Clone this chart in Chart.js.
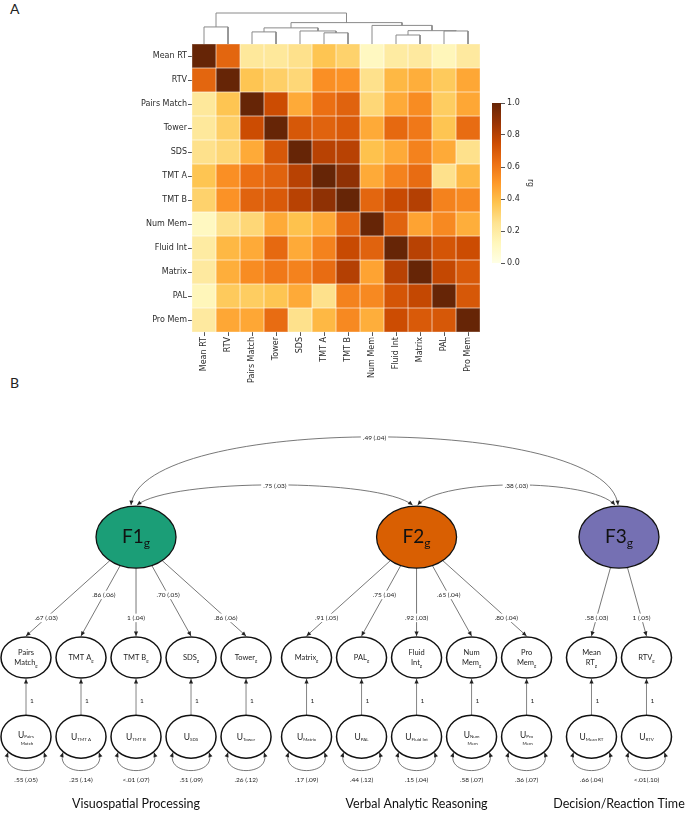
<!DOCTYPE html>
<html>
<head>
<meta charset="utf-8">
<script src="https://cdn.jsdelivr.net/npm/chart.js@4.4.1/dist/chart.umd.min.js"></script>
<style>
  body { margin: 0; background: #fff; }
  #wrap { position: relative; width: 685px; height: 818px; overflow: hidden; }
  canvas { position: absolute; }
  .tag { position: absolute; font: 14px Lato, sans-serif; color: #222; }
</style>
</head>
<body>
<div id="wrap">
  <div class="tag" style="left:10px;top:0px">A</div>
  <div class="tag" style="left:10px;top:374px">B</div>
  <canvas id="heat" width="685" height="420" style="left:0;top:0"></canvas>
  <canvas id="dendro" width="685" height="46" style="left:0;top:0"></canvas>
  <canvas id="cbar" width="55" height="190" style="left:480px;top:90px"></canvas>
  <canvas id="path" width="685" height="448" style="left:0;top:370px"></canvas>
</div>
<script>
// ---------- Panel A data ----------
const tasks = ['Mean RT', 'RTV', 'Pairs Match', 'Tower', 'SDS', 'TMT A', 'TMT B', 'Num Mem', 'Fluid Int', 'Matrix', 'PAL', 'Pro Mem'];

// genetic correlations (rg), rows/cols in the order of tasks
const rg = [
  [1.00, 0.66, 0.22, 0.22, 0.26, 0.37, 0.32, 0.11, 0.20, 0.21, 0.13, 0.21],
  [0.66, 1.00, 0.37, 0.33, 0.30, 0.53, 0.52, 0.26, 0.41, 0.44, 0.35, 0.46],
  [0.22, 0.37, 1.00, 0.75, 0.45, 0.63, 0.67, 0.30, 0.45, 0.54, 0.34, 0.46],
  [0.22, 0.33, 0.75, 1.00, 0.71, 0.67, 0.70, 0.45, 0.65, 0.60, 0.37, 0.64],
  [0.26, 0.30, 0.45, 0.71, 1.00, 0.80, 0.80, 0.38, 0.45, 0.57, 0.45, 0.26],
  [0.37, 0.53, 0.63, 0.67, 0.80, 1.00, 0.90, 0.45, 0.57, 0.64, 0.26, 0.41],
  [0.32, 0.52, 0.67, 0.70, 0.80, 0.90, 1.00, 0.66, 0.76, 0.81, 0.57, 0.55],
  [0.11, 0.26, 0.30, 0.45, 0.38, 0.45, 0.66, 1.00, 0.67, 0.47, 0.55, 0.44],
  [0.20, 0.41, 0.45, 0.65, 0.45, 0.57, 0.76, 0.67, 1.00, 0.80, 0.72, 0.75],
  [0.21, 0.44, 0.54, 0.60, 0.57, 0.64, 0.81, 0.47, 0.80, 1.00, 0.77, 0.70],
  [0.13, 0.35, 0.34, 0.37, 0.45, 0.26, 0.57, 0.55, 0.72, 0.77, 1.00, 0.71],
  [0.21, 0.46, 0.46, 0.64, 0.26, 0.41, 0.55, 0.44, 0.75, 0.70, 0.71, 1.00]
];

// hierarchical clustering merges: [left, right, height]; ids >= 12 are earlier merges
const linkage = [
  [8, 9, 0.29], [5, 6, 0.36], [2, 3, 0.39], [4, 13, 0.42], [10, 11, 0.42], [12, 16, 0.43],
  [14, 15, 0.52], [0, 1, 0.55], [7, 17, 0.60], [18, 20, 0.69], [19, 21, 1.00]
];

const cbarTicks = [0, 0.2, 0.4, 0.6, 0.8, 1.0];
const ylOrBr = ['#ffffe5', '#fff7bc', '#fee391', '#fec44f', '#fe9929', '#ec7014', '#cc4c02', '#993404', '#662506'];

// ---------- Panel B data ----------
const groups = ['Visuospatial Processing', 'Verbal Analytic Reasoning', 'Decision/Reaction Time'];
const factors = ['F1', 'F2', 'F3'];
const factorColors = ['#1b9e77', '#d95f02', '#7570b3'];
const indicators = ['Pairs Match', 'TMT A', 'TMT B', 'SDS', 'Tower', 'Matrix', 'PAL', 'Fluid Int', 'Num Mem', 'Pro Mem', 'Mean RT', 'RTV'];
const indicatorText = ['Pairs\nMatch', 'TMT A', 'TMT B', 'SDS', 'Tower', 'Matrix', 'PAL', 'Fluid\nInt', 'Num\nMem', 'Pro\nMem', 'Mean\nRT', 'RTV'];
const residualText = ['Pairs\nMatch', 'TMT A', 'TMT B', 'SDS', 'Tower', 'Matrix', 'PAL', 'Fluid Int', 'Num\nMem', 'Pro\nMem', 'Mean RT', 'RTV'];
const indicatorFactor = [0, 0, 0, 0, 0, 1, 1, 1, 1, 1, 2, 2];
const loadings = ['.67 (.03)', '.86 (.06)', '1 (.04)', '.70 (.05)', '.86 (.06)', '.91 (.05)', '.75 (.04)', '.92 (.03)', '.65 (.04)', '.80 (.04)', '.58 (.03)', '1 (.05)'];
const residuals = ['.55 (.05)', '.25 (.14)', '<.01 (.07)', '.51 (.09)', '.26 (.12)', '.17 (.09)', '.44 (.12)', '.15 (.04)', '.58 (.07)', '.36 (.07)', '.66 (.04)', '<.01(.10)'];
const factorCorr = [[0, 1, '.75 (.03)'], [1, 2, '.38 (.03)'], [0, 2, '.49 (.04)']];

// ---------- helpers ----------
function hexRgb(h) {
  return [1, 3, 5].map(i => parseInt(h.slice(i, i + 2), 16));
}
function cmap(v) {
  const n = ylOrBr.length - 1;
  const t = Math.min(Math.max(v, 0), 1) * n;
  const i = Math.min(Math.floor(t), n - 1);
  const f = t - i;
  const a = hexRgb(ylOrBr[i]), b = hexRgb(ylOrBr[i + 1]);
  return 'rgb(' + a.map((c, k) => Math.round(c + (b[k] - c) * f)).join(',') + ')';
}

const tickFont = { family: 'DejaVu Sans', size: 8 };
const tickColor = '#2b2b2b';

// ---------- heatmap ----------
const cells = [];
tasks.forEach((r, i) => tasks.forEach((c, j) => cells.push({ x: c, y: r, v: rg[i][j] })));

const heatCells = {
  id: 'heatCells',
  beforeDatasetsDraw(chart) {
    const { ctx, scales: { x, y } } = chart;
    const w = x.width / tasks.length, h = y.height / tasks.length;
    const meta = chart.getDatasetMeta(0);
    ctx.save();
    meta.data.forEach((pt, k) => {
      ctx.fillStyle = cmap(cells[k].v);
      ctx.fillRect(pt.x - w / 2, pt.y - h / 2, w, h);
    });
    ctx.strokeStyle = 'rgba(255,255,255,0.35)';
    ctx.lineWidth = 1;
    meta.data.forEach(pt => ctx.strokeRect(pt.x - w / 2, pt.y - h / 2, w, h));
    ctx.restore();
  }
};

new Chart(document.getElementById('heat'), {
  type: 'scatter',
  data: { datasets: [{ data: cells, pointRadius: 0, pointHoverRadius: 0 }] },
  options: {
    responsive: false, animation: false, events: [],
    layout: { padding: { top: 44, right: 205, left: 0, bottom: 0 } },
    plugins: { legend: { display: false }, tooltip: { enabled: false } },
    scales: {
      x: {
        type: 'category', labels: tasks, offset: true,
        grid: { drawOnChartArea: false, tickLength: 4, color: tickColor, lineWidth: 0.8 },
        border: { display: false },
        ticks: { minRotation: 90, maxRotation: 90, autoSkip: false, padding: 1, color: tickColor, font: tickFont },
        afterFit: s => { s.height = 88; }
      },
      y: {
        type: 'category', labels: tasks, offset: true,
        grid: { drawOnChartArea: false, tickLength: 4, color: tickColor, lineWidth: 0.8 },
        border: { display: false },
        ticks: { autoSkip: false, padding: 1, color: tickColor, font: tickFont },
        afterFit: s => { s.width = 192; }
      }
    }
  },
  plugins: [heatCells]
});

// ---------- dendrogram ----------
const nodes = tasks.map((t, i) => ({ x: i + 0.5, h: 0 }));
const links = [];
linkage.forEach(([a, b, h]) => {
  const A = nodes[a], B = nodes[b];
  links.push([{ x: A.x, y: A.h }, { x: A.x, y: h }, { x: B.x, y: h }, { x: B.x, y: B.h }]);
  nodes.push({ x: (A.x + B.x) / 2, h: h });
});

new Chart(document.getElementById('dendro'), {
  type: 'scatter',
  data: {
    datasets: links.map(l => ({
      data: l, showLine: true, borderColor: '#8a8a8a', borderWidth: 1,
      pointRadius: 0, tension: 0, clip: false
    }))
  },
  options: {
    responsive: false, animation: false, events: [],
    layout: { padding: { top: 13, right: 205, left: 192, bottom: 2 } },
    plugins: { legend: { display: false }, tooltip: { enabled: false } },
    scales: {
      x: { type: 'linear', min: 0, max: tasks.length, display: false },
      y: { type: 'linear', min: 0, max: 1, display: false }
    }
  }
});

// ---------- colorbar ----------
new Chart(document.getElementById('cbar'), {
  type: 'bar',
  data: {
    labels: [''],
    datasets: [{
      data: [1], barPercentage: 1, categoryPercentage: 1, borderWidth: 0,
      backgroundColor: c => {
        const area = c.chart.chartArea;
        if (!area) return ylOrBr[4];
        const g = c.chart.ctx.createLinearGradient(0, area.bottom, 0, area.top);
        ylOrBr.forEach((col, i) => g.addColorStop(i / (ylOrBr.length - 1), col));
        return g;
      }
    }]
  },
  options: {
    responsive: false, animation: false, events: [],
    layout: { padding: { top: 13, right: 0, left: 12, bottom: 17 } },
    plugins: { legend: { display: false }, tooltip: { enabled: false } },
    scales: {
      x: { display: false },
      y: {
        position: 'right', min: 0, max: 1,
        afterBuildTicks: s => { s.ticks = cbarTicks.map(v => ({ value: v })); },
        ticks: { callback: v => v.toFixed(1), padding: 2, color: tickColor, font: tickFont },
        grid: { drawOnChartArea: false, tickLength: 4, color: tickColor, lineWidth: 0.8 },
        border: { display: false },
        title: { display: true, text: 'rg', color: tickColor, font: tickFont, padding: 0 },
        afterFit: s => { s.width = 34; }
      }
    }
  }
});

// ---------- Panel B path diagram ----------
// layout: horizontal slots per indicator, vertical tiers (0 = residual row, 1 = indicator row)
const groupGap = [0, 0.1, 0.28];
const slot = indicators.map((_, i) => i + groupGap[indicatorFactor[i]]);
const factorSlot = factors.map((_, f) => {
  const s = slot.filter((_, i) => indicatorFactor[i] === f);
  return s.reduce((a, b) => a + b, 0) / s.length;
});
const tier = { residual: 0, indicator: 1, factor: 2.52, loadLow: 1.5, loadHigh: 1.79, one: 0.455, resLabel: -0.55, group: -0.85 };
const R = { factor: [40, 31], indicator: [25, 20.5], residual: [25, 21.5] };

function arrowHead(ctx, tx, ty, fx, fy) {
  const a = Math.atan2(ty - fy, tx - fx), L = 4.5, W = 2.1;
  ctx.beginPath();
  ctx.moveTo(tx, ty);
  ctx.lineTo(tx - L * Math.cos(a) + W * Math.sin(a), ty - L * Math.sin(a) - W * Math.cos(a));
  ctx.lineTo(tx - L * Math.cos(a) - W * Math.sin(a), ty - L * Math.sin(a) + W * Math.cos(a));
  ctx.closePath();
  ctx.fill();
}
function boxLabel(ctx, txt, x, y, size) {
  ctx.font = size + 'px Lato';
  const w = ctx.measureText(txt).width;
  ctx.fillStyle = '#fff';
  ctx.fillRect(x - w / 2 - 2, y - size / 2 - 1, w + 4, size + 2);
  ctx.fillStyle = '#222';
  ctx.textAlign = 'center';
  ctx.textBaseline = 'middle';
  ctx.fillText(txt, x, y);
}
function subText(ctx, main, sub, x, y, size, subSize, drop) {
  ctx.textBaseline = 'alphabetic';
  ctx.textAlign = 'left';
  ctx.font = size + 'px Lato';
  const w1 = ctx.measureText(main).width;
  ctx.font = subSize + 'px Lato';
  const w2 = ctx.measureText(sub).width;
  const x0 = x - (w1 + w2) / 2;
  ctx.font = size + 'px Lato';
  ctx.fillText(main, x0, y);
  ctx.font = subSize + 'px Lato';
  ctx.fillText(sub, x0 + w1, y + drop);
}
function ellipse(ctx, cx, cy, r, fill, lw) {
  ctx.beginPath();
  ctx.ellipse(cx, cy, r[0], r[1], 0, 0, Math.PI * 2);
  ctx.fillStyle = fill;
  ctx.fill();
  ctx.lineWidth = lw;
  ctx.strokeStyle = '#111';
  ctx.stroke();
}

const pathPlugin = {
  id: 'pathDiagram',
  afterDatasetsDraw(chart) {
    const { ctx, scales: { x, y } } = chart;
    const X = v => x.getPixelForValue(v), Y = v => y.getPixelForValue(v);
    const fy = Y(tier.factor), iy = Y(tier.indicator), uy = Y(tier.residual);
    ctx.save();
    ctx.strokeStyle = '#555';
    ctx.fillStyle = '#222';
    ctx.lineWidth = 0.8;

    // factor correlations
    factorCorr.forEach(([a, b, txt]) => {
      const long = b - a > 1;
      const x0 = X(factorSlot[a]) + (long ? -5 : 1);
      const x3 = X(factorSlot[b]) + (long ? -1 : -4);
      const y0 = fy - R.factor[1] - 1;
      const lift = long ? 91 : 27, frac = long ? 0.02 : 0.12;
      const x1 = x0 + (x3 - x0) * frac, x2 = x3 - (x3 - x0) * frac, yc = y0 - lift;
      ctx.strokeStyle = '#555';
      ctx.beginPath();
      ctx.moveTo(x0, y0);
      ctx.bezierCurveTo(x1, yc, x2, yc, x3, y0);
      ctx.stroke();
      ctx.fillStyle = '#222';
      arrowHead(ctx, x0, y0, x1, yc);
      arrowHead(ctx, x3, y0, x2, yc);
      const mx = 0.125 * x0 + 0.375 * x1 + 0.375 * x2 + 0.125 * x3;
      const my = 0.25 * y0 + 0.75 * yc;
      boxLabel(ctx, txt, mx, my + 1, 6.5);
    });

    // loadings
    const within = indicators.map((_, i) => indicatorFactor.slice(0, i).filter(f => f === indicatorFactor[i]).length);
    const groupSize = factors.map((_, f) => indicatorFactor.filter(g => g === f).length);
    indicators.forEach((_, i) => {
      const f = indicatorFactor[i];
      const cx = X(factorSlot[f]), tx = X(slot[i]), ty = iy - R.indicator[1] - 1;
      const dx = tx - cx, dy = ty - fy;
      const t = 1 / Math.sqrt((dx / R.factor[0]) ** 2 + (dy / R.factor[1]) ** 2);
      const sx = cx + dx * t, sy = fy + dy * t;
      ctx.strokeStyle = '#555';
      ctx.lineWidth = 0.8;
      ctx.beginPath();
      ctx.moveTo(sx, sy);
      ctx.lineTo(tx, ty);
      ctx.stroke();
      ctx.fillStyle = '#222';
      arrowHead(ctx, tx, ty, sx, sy);
      const j = within[i], n = groupSize[f];
      const high = j % 2 === 1 && j < n - 1;
      const ly = Y(high ? tier.loadHigh : tier.loadLow);
      const lx = sx + (tx - sx) * (ly - sy) / (ty - sy);
      boxLabel(ctx, loadings[i], lx, ly, 6.5);
    });

    // residual paths, self-loops and labels
    indicators.forEach((_, i) => {
      const cx = X(slot[i]);
      ctx.strokeStyle = '#666';
      ctx.lineWidth = 0.8;
      ctx.beginPath();
      ctx.moveTo(cx, uy - R.residual[1]);
      ctx.lineTo(cx, iy + R.indicator[1] + 1);
      ctx.stroke();
      ctx.fillStyle = '#222';
      arrowHead(ctx, cx, iy + R.indicator[1] + 1, cx, uy - R.residual[1]);
      ctx.font = '6.5px Lato';
      ctx.textAlign = 'left';
      ctx.textBaseline = 'middle';
      ctx.fillText('1', cx + 4, Y(tier.one));

      const ex = 18;
      const ey = uy + R.residual[1] * Math.sqrt(1 - (ex / R.residual[0]) ** 2) + 1;
      ctx.strokeStyle = '#555';
      ctx.beginPath();
      ctx.moveTo(cx - ex, ey);
      ctx.bezierCurveTo(cx - 26, ey + 24, cx + 26, ey + 24, cx + ex, ey);
      ctx.stroke();
      arrowHead(ctx, cx - ex, ey, cx - 26, ey + 24);
      arrowHead(ctx, cx + ex, ey, cx + 26, ey + 24);
      ctx.fillStyle = '#222';
      ctx.font = '6.5px Lato';
      ctx.textAlign = 'center';
      ctx.fillText(residuals[i], cx, Y(tier.resLabel));
    });

    // factor ellipses
    factors.forEach((name, f) => {
      const cx = X(factorSlot[f]);
      ellipse(ctx, cx, fy, R.factor, factorColors[f], 1.3);
      ctx.fillStyle = '#111';
      subText(ctx, name, 'g', cx, fy + 6, 19, 12, 4);
    });

    // indicator and residual ellipses
    indicators.forEach((_, i) => {
      const cx = X(slot[i]);
      ellipse(ctx, cx, iy, R.indicator, '#fff', 1.5);
      ellipse(ctx, cx, uy, R.residual, '#fff', 1.5);
      ctx.fillStyle = '#222';
      const lines = indicatorText[i].split('\n');
      if (lines.length === 1) {
        subText(ctx, lines[0], 'g', cx, iy + 3, 7.5, 4.5, 2);
      } else {
        ctx.font = '7.5px Lato';
        ctx.textAlign = 'center';
        ctx.textBaseline = 'alphabetic';
        ctx.fillText(lines[0], cx, iy - 2);
        subText(ctx, lines[1], 'g', cx, iy + 8, 7.5, 4.5, 2);
      }
      const ul = residualText[i].split('\n');
      if (ul.length === 1) {
        subText(ctx, 'U', ul[0], cx, uy + 3, 8.5, 4.5, 1);
      } else {
        subText(ctx, 'U', ul[0], cx, uy + 1, 8.5, 4.5, 0);
        ctx.font = '4.5px Lato';
        ctx.textAlign = 'center';
        ctx.fillText(ul[1], cx + 1, uy + 8);
      }
    });

    // group labels
    groups.forEach((g, f) => {
      ctx.font = '12.5px Lato';
      ctx.fillStyle = '#111';
      ctx.textAlign = 'center';
      ctx.textBaseline = 'middle';
      ctx.fillText(g, X(factorSlot[f]), Y(tier.group));
    });
    ctx.restore();
  }
};

new Chart(document.getElementById('path'), {
  type: 'scatter',
  data: {
    datasets: [{ data: slot.map(s => ({ x: s, y: tier.indicator })), pointRadius: 0 }]
  },
  options: {
    responsive: false, animation: false, events: [],
    layout: { padding: 0 },
    plugins: { legend: { display: false }, tooltip: { enabled: false } },
    scales: {
      x: { type: 'linear', min: -0.4727, max: 11.98, display: false },
      y: { type: 'linear', min: -1.027, max: 4.63, display: false }
    }
  },
  plugins: [pathPlugin]
});
</script>
</body>
</html>
